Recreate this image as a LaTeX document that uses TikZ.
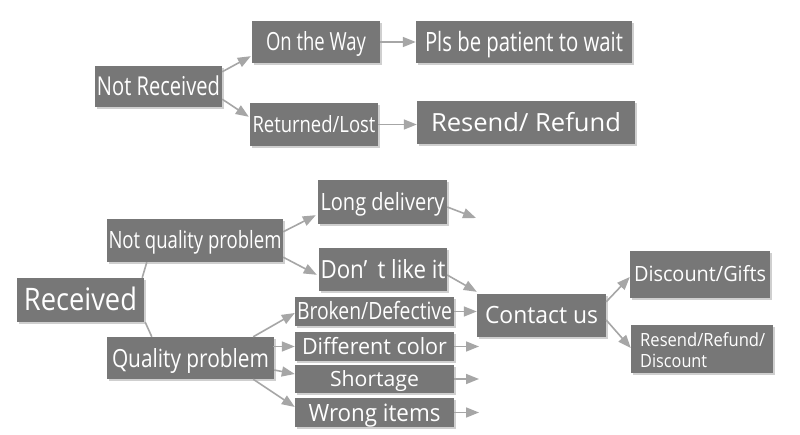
\documentclass[tikz,border=0pt]{standalone}
\usepackage{fontspec}
\setmainfont{Open Sans}
\usepackage{graphicx}
\usetikzlibrary{arrows.meta,calc,shadows}
\definecolor{boxgray}{HTML}{777777}
\definecolor{shadowgray}{HTML}{C4C4C4}
\definecolor{arrowgray}{HTML}{A6A6A6}
\newcommand{\fitw}[3]{{\fontsize{#2}{#2}\selectfont\resizebox{#1pt}{\height}{#3}}}
\tikzset{
  x=1pt,y=-1pt,
  box/.style={fill=boxgray,text=white,inner sep=0pt,text depth=0pt,anchor=center,
    drop shadow={shadow xshift=2pt,shadow yshift=-2pt,fill=shadowgray,opacity=0.8}},
  conn/.style={draw=arrowgray,line width=1.6pt,-{Triangle[length=13pt,width=10pt]}},
  plainconn/.style={draw=arrowgray,line width=1.6pt},
}
\begin{document}
\begin{tikzpicture}
\useasboundingbox[fill=white] (0,0) rectangle (800,435);
% top tree
\node[box,minimum width=127pt,minimum height=41pt,text height=18.7pt] (nr) at (158.5,86.5) {\fitw{123}{26}{Not Received}};
\node[box,minimum width=128pt,minimum height=42pt,text height=18pt] (otw) at (316,42) {\fitw{100}{25}{On the Way}};
\node[box,minimum width=128pt,minimum height=43pt,text height=16pt] (rl) at (314,124.5) {\fitw{123}{22.4}{Returned/Lost}};
\node[box,minimum width=216pt,minimum height=42pt,text height=19pt] (pls) at (524,42) {\fitw{198}{26.6}{Pls be patient to wait}};
\node[box,minimum width=218pt,minimum height=43pt,text height=18pt] (rr) at (526,122.5) {\fitw{190}{25}{Resend/ Refund}};
% bottom tree
\node[box,minimum width=127pt,minimum height=44pt,text height=22pt] (rec) at (80.5,300) {\fitw{113}{31}{Received}};
\node[box,minimum width=176pt,minimum height=43pt,text height=17pt] (nq) at (195,240.5) {\fitw{173}{23.8}{Not quality problem}};
\node[box,minimum width=167pt,minimum height=42pt,text height=18pt] (qp) at (190.5,358) {\fitw{157}{25}{Quality problem}};
\node[box,minimum width=129pt,minimum height=44pt,text height=17pt] (ld) at (382.5,202) {\fitw{124}{23.8}{Long delivery}};
\node[box,minimum width=128pt,minimum height=43pt,text height=18pt] (dl) at (383,269.5) {\fitw{125}{25}{Don’\hspace{0.45em}t like it}};
\node[box,minimum width=159pt,minimum height=29pt,text height=17pt] (bd) at (374.5,311.5) {\fitw{155}{23.8}{Broken/Defective}};
\node[box,minimum width=159pt,minimum height=29pt,text height=16pt] (dc) at (374.5,346.5) {\fitw{145}{22.4}{Different color}};
\node[box,minimum width=159pt,minimum height=28pt,text height=15pt] (sh) at (374.5,379) {\fitw{89}{21}{Shortage}};
\node[box,minimum width=159pt,minimum height=29pt,text height=17pt] (wi) at (374.5,412.5) {\fitw{132}{23.8}{Wrong items}};
\node[box,minimum width=129pt,minimum height=43pt,text height=17pt] (cu) at (541.5,315.5) {\fitw{113}{23.8}{Contact us}};
\node[box,minimum width=140pt,minimum height=47pt,text height=15pt] (dg) at (700,274.5) {\fitw{132}{21}{Discount/Gifts}};
\node[box,minimum width=142pt,minimum height=48pt] (rrd) at (702,349) {};
\node[text=white,inner sep=0pt,anchor=base west,align=left,font=\fontsize{18.2}{20.3}\selectfont] (rrdt) at (640,367) {\resizebox{125pt}{\height}{Resend/Refund/}\\\resizebox{67pt}{\height}{Discount}};
% dangling arrow ends
\coordinate (ldend) at (476,218);
\coordinate (dcend) at (479,346.5);
\coordinate (shend) at (479,379);
\coordinate (wiend) at (479,412.5);
% connectors top
\draw[conn] ($(nr.north east)+(0,6)$) -- ($(otw.south west)+(-1,-7)$);
\draw[conn] ($(nr.south east)+(0,-8)$) -- ($(rl.north west)+(-1,14)$);
\draw[conn] (otw.east) -- (pls.west);
\draw[conn] (rl.east) -- (rl.east -| rr.west);
% connectors bottom
\draw[plainconn] ($(rec.north east)+(-2,0)$) -- ($(nq.south west)+(40,0)$);
\draw[plainconn] ($(rec.south east)+(1,0)$) -- ($(qp.north west)+(45,0)$);
\draw[conn] ($(nq.north east)+(0,13)$) -- ($(ld.south west)+(-2,-9)$);
\draw[conn] ($(nq.south east)+(0,-5)$) -- ($(dl.north west)+(-2,27)$);
\draw[conn] ($(ld.east)+(0,5)$) -- (ldend);
\draw[conn] ($(dl.east)+(0,5.5)$) -- ($(cu.north west)+(0,-2)$);
\draw[conn] ($(qp.north east)+(-21,0)$) -- ($(bd.west)+(0,1.5)$);
\draw[conn] ($(qp.east)+(0,-11)$) -- (qp.east |- dc.west) -- (dc.west);
\draw[conn] ($(qp.east)+(0,12)$) -- ($(sh.west)+(0,-5)$);
\draw[conn] ($(qp.south east)+(-21,0)$) -- ($(wi.west)+(0,-5.5)$);
\draw[conn] (bd.east) -- (bd.east -| cu.west);
\draw[conn] (dc.east) -- (dcend);
\draw[conn] (sh.east) -- (shend);
\draw[conn] (wi.east) -- (wiend);
\draw[conn] ($(cu.north east)+(0,8)$) -- ($(dg.west)+(0,2.5)$);
\draw[conn] ($(cu.east)+(0,4.5)$) -- ($(rrd.west)+(0,-1)$);
\end{tikzpicture}
\end{document}
